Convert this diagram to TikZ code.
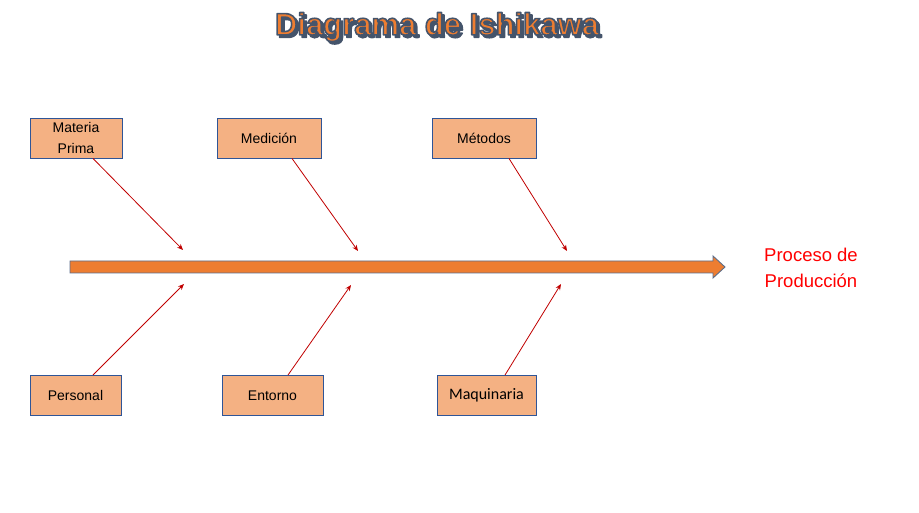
\documentclass[tikz,border=0pt]{standalone}
\usepackage{fontspec}
\setmainfont{Liberation Sans}
\newfontfamily\calfont{Carlito}
\usetikzlibrary{arrows.meta}
\definecolor{boxfill}{HTML}{F4B183}
\definecolor{boxline}{HTML}{2F5597}
\definecolor{spine}{HTML}{ED7D31}
\definecolor{spineline}{HTML}{5B6D8A}
\definecolor{bone}{HTML}{C00000}
\definecolor{titleshadow}{HTML}{44546A}
\newcommand{\outlinetext}[1]{\special{pdf:literal direct 2 Tr 1.6 w 1 j 0.27 0.33 0.42 RG}#1\special{pdf:literal direct 0 Tr}}
\tikzset{
  cause/.style={draw=boxline, fill=boxfill, line width=0.9pt, minimum height=40pt, inner sep=0pt, align=center, font=\fontsize{14}{21}\selectfont},
  bonearrow/.style={draw=bone, line width=0.8pt, -{Stealth[length=6pt,width=5pt]}},
  titletext/.style={font=\fontsize{31}{36}\bfseries\selectfont}
}
\begin{document}
\begin{tikzpicture}[x=1pt,y=-1pt]
\useasboundingbox (0,0) rectangle (919,513);
% title
\node[titletext, text=titleshadow] (titleshade) at (439.5,29.5) {\outlinetext{Diagrama de Ishikawa}};
\node[titletext, text=spine] (title) at (437,27) {\outlinetext{Diagrama de Ishikawa}};
% spine
\draw[fill=spine, draw=spineline, line width=0.9pt]
  (70,261) -- (713,261) -- (713,256) -- (725,267) -- (713,278) -- (713,273) -- (70,273) -- cycle;
\coordinate (head) at (725,267);
% effect
\node[text=red, align=center, font=\fontsize{18.5}{26}\selectfont] (effect) at (811,268) {Proceso de\\Producción};
% causes
\node[cause, minimum width=92pt] (mp) at (76,138) {Materia\\Prima};
\node[cause, minimum width=104pt] (med) at (269,138) {Medición};
\node[cause, minimum width=104pt] (met) at (484,138) {Métodos};
\node[cause, minimum width=91pt] (per) at (75.5,395.5) {Personal};
\node[cause, minimum width=101pt] (ent) at (272.5,395.5) {Entorno};
\node[cause, minimum width=99pt, font=\calfont\fontsize{16}{19}\selectfont] (maq) at (486.5,395.5) {\raisebox{-1pt}{Maquinaria}};
% arrow ends
\coordinate (e1) at (183,250);
\coordinate (e2) at (358,251);
\coordinate (e3) at (567,251);
\coordinate (e4) at (184,284);
\coordinate (e5) at (351,285);
\coordinate (e6) at (561,284);
\draw[bonearrow] (mp.south -| 93,0) -- (e1);
\draw[bonearrow] (med.south -| 292,0) -- (e2);
\draw[bonearrow] (met.south -| 509,0) -- (e3);
\draw[bonearrow] (per.north -| 93,0) -- (e4);
\draw[bonearrow] (ent.north -| 288,0) -- (e5);
\draw[bonearrow] (maq.north -| 505,0) -- (e6);
\end{tikzpicture}
\end{document}
